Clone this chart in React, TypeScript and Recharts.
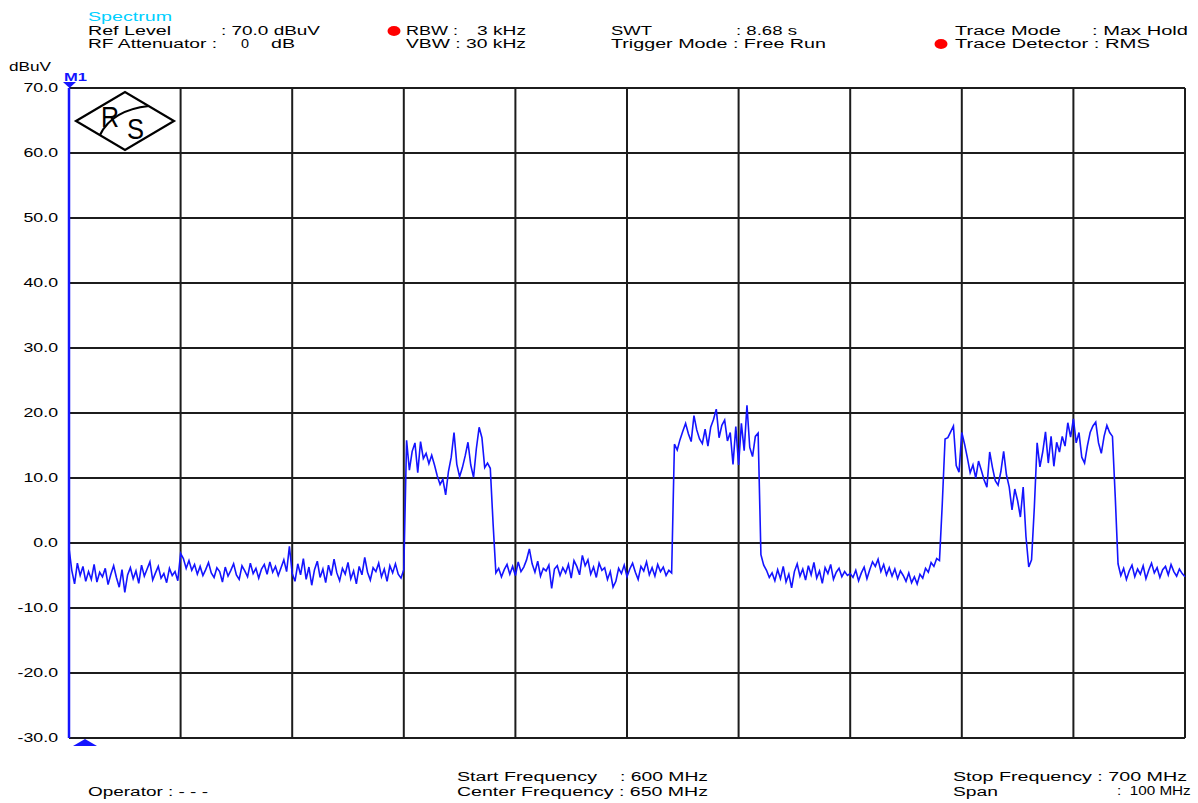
import { LineChart, Line, XAxis, YAxis, CartesianGrid, ReferenceLine } from "recharts";

// sweep: 600 MHz .. 700 MHz, 401 points, one every 0.25 MHz
const START_FREQ = 600;
const FREQ_STEP = 0.25;
const FREQ_TICKS = [600, 610, 620, 630, 640, 650, 660, 670, 680, 690, 700];
const LEVEL_TICKS = [-30, -20, -10, 0, 10, 20, 30, 40, 50, 60, 70];

// levels in dBuV, segment by segment
const NOISE_A = [
  -0.8, -4.2, -6.3, -3.1, -5.0, -3.6, -5.9, -4.4, -5.6, -3.3,
  -6.0, -4.5, -5.2, -3.9, -6.4, -4.8, -3.5, -5.3, -6.8, -4.1,
  -7.6, -4.9, -3.8, -5.5, -4.3, -6.2, -3.4, -5.1, -4.0, -2.9,
  -5.7, -4.6, -3.6, -5.4, -4.7, -6.1, -3.9, -5.0, -4.4, -5.8,
  -1.6, -2.4, -3.9, -2.7, -4.2, -3.3, -4.8, -3.6, -5.0, -4.1,
  -3.0, -4.6, -5.3, -3.8, -4.4, -6.0, -3.7, -5.1, -4.2, -3.2,
  -4.9, -5.6, -3.5, -4.3, -5.2, -3.1, -4.7, -3.9, -5.4, -4.0,
  -3.3, -4.8, -2.9, -4.5, -3.6, -5.0, -3.8, -2.6, -4.4, -0.5,
  -4.7, -5.9, -3.2, -4.9, -2.4, -5.6, -3.7, -6.5, -4.1, -2.8,
  -5.3, -4.0, -6.1, -3.4, -5.0, -2.5, -4.6, -5.8, -3.9, -4.8,
  -3.0, -5.5, -4.3, -6.3, -3.6, -4.9, -2.2, -4.5, -5.7, -3.8,
  -4.4, -3.1, -5.2, -4.0, -5.9, -3.5, -4.6, -3.2, -4.8, -5.4,
  -4.1,
];
const BURST_A = [
  15.8, 11.2, 14.1, 15.4, 10.8, 15.6, 13.0, 13.8, 12.2, 13.5,
  12.0, 10.3, 9.0, 9.8, 7.4, 11.0, 13.2, 17.0, 12.1, 10.2,
  11.6, 13.4, 15.5, 12.0, 10.1, 14.5, 17.8, 16.2, 11.6, 12.3,
  11.5, 3.0,
];
const NOISE_B = [
  -4.6, -3.9, -5.2, -4.1, -3.3, -4.8, -3.6, -5.0, -2.9, -4.4,
  -3.7, -2.6, -0.9, -3.2, -4.5, -2.8, -5.1, -3.9, -4.3, -3.4,
  -7.0, -4.0, -3.5, -5.0, -3.8, -4.6, -3.3, -5.4, -2.7, -3.6,
  -4.9, -1.9, -3.5, -2.6, -4.8, -3.7, -5.3, -3.1, -4.2, -3.8,
  -5.6, -4.4, -6.8, -5.9, -3.9, -4.7, -3.4, -5.2, -4.0, -3.1,
  -4.5, -5.6, -3.6, -4.3, -2.9, -4.9, -3.8, -5.1, -3.3, -4.4,
  -3.7, -5.0, -4.2, -4.6,
];
const BURST_B = [
  15.2, 14.3, 15.9, 17.2, 18.4, 16.8, 15.6, 19.6, 17.4, 16.0,
  15.3, 17.5, 14.9, 17.8, 19.0, 20.6, 16.2, 18.1, 18.9, 15.7,
  17.0, 12.1, 17.9, 12.0, 18.4, 14.2, 21.2, 14.7, 13.3, 16.4,
  16.9,
];
const NOISE_C = [
  -1.8, -3.4, -4.2, -5.3, -4.6, -5.8, -4.1, -5.5, -3.6, -6.0,
  -4.8, -6.9, -4.4, -3.2, -5.1, -4.0, -5.7, -3.5, -4.9, -3.0,
  -5.4, -4.3, -6.2, -3.8, -4.7, -3.3, -5.6, -4.5, -3.9, -5.2,
  -4.4, -5.0, -4.7, -5.3, -4.2, -5.8, -4.6, -3.7, -5.5, -4.1,
  -2.9, -3.6, -2.5, -4.4, -3.3, -4.9, -3.8, -5.1, -4.0, -5.5,
  -4.3, -5.0, -5.9, -4.6, -6.1, -5.2, -6.3, -4.8, -5.4, -3.9,
  -4.5, -3.0, -3.6, -2.4, -2.7,
];
const BURST_C = [
  6.0, 16.0, 16.2, 17.1, 18.0, 11.9, 10.9, 17.0, 15.2, 13.1,
  10.8, 12.0, 10.0, 12.6, 11.2, 9.7, 8.6, 14.0, 11.6, 9.6,
  8.9, 11.0, 14.1, 10.5, 8.6, 5.1, 8.3, 6.5, 4.0, 8.6,
  1.0, -3.7, -2.6, 5.5, 15.4, 11.7, 14.0, 17.1, 12.3, 16.4,
  11.8, 15.5, 14.0, 16.4, 14.9, 18.5, 16.3, 19.1, 15.4, 17.0,
  13.2, 12.3, 14.9, 17.0, 18.0, 18.6, 15.4, 13.8, 16.4, 18.1,
  17.0, 16.4, 7.1,
];
const NOISE_D = [
  -3.2, -5.0, -3.9, -5.6, -4.3, -3.4, -5.2, -4.0, -4.8, -3.5,
  -5.5, -4.2, -3.1, -4.6, -3.8, -5.3, -4.1, -3.6, -4.9, -3.3,
  -4.4, -5.1, -4.0, -4.7, -5.2,
];

const LEVELS = [...NOISE_A, ...BURST_A, ...NOISE_B, ...BURST_B, ...NOISE_C, ...BURST_C, ...NOISE_D];
const rows = LEVELS.map((level, i) => ({ f: START_FREQ + i * FREQ_STEP, level }));

const FONT = '"Liberation Sans", Arial, sans-serif';
const TRACE_BLUE = "#1414ff";
const GRID = "#1c1c1c";

// [text, x, baseline, width, color]
const LABELS: [string, number, number, number, string][] = [
  ["Spectrum", 88, 21, 84, "#00d0ff"],
  ["Ref Level", 88, 35, 83, "#000"],
  [": 70.0 dBuV", 221, 35, 99, "#000"],
  ["RF Attenuator :", 88, 48, 129, "#000"],
  ["0", 241, 48, 8, "#000"],
  ["dB", 271, 48, 24, "#000"],
  ["RBW :", 406, 35, 52, "#000"],
  ["3 kHz", 477, 35, 49, "#000"],
  ["VBW : 30 kHz", 406, 48, 120, "#000"],
  ["SWT", 611, 35, 41, "#000"],
  [": 8.68 s", 736, 35, 61, "#000"],
  ["Trigger Mode : Free Run", 611, 48, 215, "#000"],
  ["Trace Mode", 955, 35, 106, "#000"],
  [": Max Hold", 1092, 35, 96, "#000"],
  ["Trace Detector : RMS", 955, 48, 195, "#000"],
  ["dBuV", 9, 71, 42, "#000"],
  ["Operator : - - -", 88, 796, 120, "#000"],
  ["Start Frequency", 457, 781, 140, "#000"],
  [": 600 MHz", 620, 781, 88, "#000"],
  ["Center Frequency : 650 MHz", 457, 796, 251, "#000"],
  ["Stop Frequency : 700 MHz", 953, 781, 234, "#000"],
  ["Span", 953, 796, 45, "#000"],
];

function LevelTick(props: any) {
  const { x, y, payload } = props;
  return (
    <g transform={`translate(${x},${y}) scale(1.48,1)`}>
      <text x={0} y={0} dy="0.36em" textAnchor="end" fontFamily={FONT} fontSize={12} fill="#000">
        {Number(payload.value).toFixed(1)}
      </text>
    </g>
  );
}

function Overlay() {
  return (
    <svg
      width={1198}
      height={803}
      style={{ position: "absolute", left: 0, top: 0, pointerEvents: "none" }}
    >
      {LABELS.map(([t, x, y, w, c], i) => (
        <text
          key={i}
          x={x}
          y={y}
          textLength={w}
          lengthAdjust="spacingAndGlyphs"
          fontFamily={FONT}
          fontSize={12.5}
          fill={c}
        >
          {t}
        </text>
      ))}

      {/* red dots */}
      <ellipse cx={394} cy={31} rx={6.5} ry={5} fill="#ff0000" />
      <ellipse cx={941} cy={44} rx={6.5} ry={5} fill="#ff0000" />

      {/* marker M1 */}
      <text x={64} y={81} textLength={23} lengthAdjust="spacingAndGlyphs" fontFamily={FONT} fontSize={11} fontWeight={700} fill={TRACE_BLUE}>
        M1
      </text>
      <polygon points="63,82 76,82 69.5,88" fill={TRACE_BLUE} />
      <polygon points="73,746 97,746 85,739" fill={TRACE_BLUE} />

      {/* R&S logo */}
      <g stroke="#000" strokeWidth={2.2} fill="none">
        <polygon points="76,121 125,92 174,121 125,150" fill="#fff" />
        <path d="M 100 135 Q 112 110 149 106" />
      </g>
      <text x={101} y={127} textLength={18} lengthAdjust="spacingAndGlyphs" fontFamily={FONT} fontSize={29} fill="#000">
        R
      </text>
      <text x={127} y={139} textLength={17} lengthAdjust="spacingAndGlyphs" fontFamily={FONT} fontSize={30} fill="#000">
        S
      </text>
    </svg>
  );
}

export default function App() {
  return (
    <div style={{ position: "absolute", left: 0, top: 0, width: 1198, height: 803, background: "#fff" }}>
      <LineChart width={1198} height={803} data={rows} margin={{ top: 88, right: 13, bottom: 65, left: 9 }}>
        <CartesianGrid stroke={GRID} strokeWidth={2} vertical={false} horizontalValues={LEVEL_TICKS} />
        <XAxis
          type="number"
          dataKey="f"
          domain={[600, 700]}
          ticks={FREQ_TICKS}
          tick={false}
          axisLine={false}
          tickLine={false}
          height={0}
        />
        <YAxis
          type="number"
          domain={[-30, 70]}
          ticks={LEVEL_TICKS}
          width={60}
          axisLine={false}
          tickLine={false}
          tickSize={0}
          tickMargin={11}
          tick={(p: any) => <LevelTick {...p} />}
        />
        {FREQ_TICKS.slice(1).map((f) => (
          <ReferenceLine key={f} x={f} stroke={GRID} strokeWidth={2} />
        ))}
        <ReferenceLine x={600} stroke={TRACE_BLUE} strokeWidth={2.5} />
        <Line
          type="linear"
          dataKey="level"
          stroke={TRACE_BLUE}
          strokeWidth={1.6}
          dot={false}
          isAnimationActive={false}
        />
      </LineChart>
      <Overlay />
      {/* span value as html text */}
      <div
        style={{
          position: "absolute",
          left: 1117,
          top: 784,
          fontFamily: FONT,
          fontSize: 12.5,
          lineHeight: "14px",
          whiteSpace: "pre",
          color: "#000",
          transform: "scaleX(1.22)",
          transformOrigin: "0 0",
        }}
      >
        :  100 MHz
      </div>
    </div>
  );
}
